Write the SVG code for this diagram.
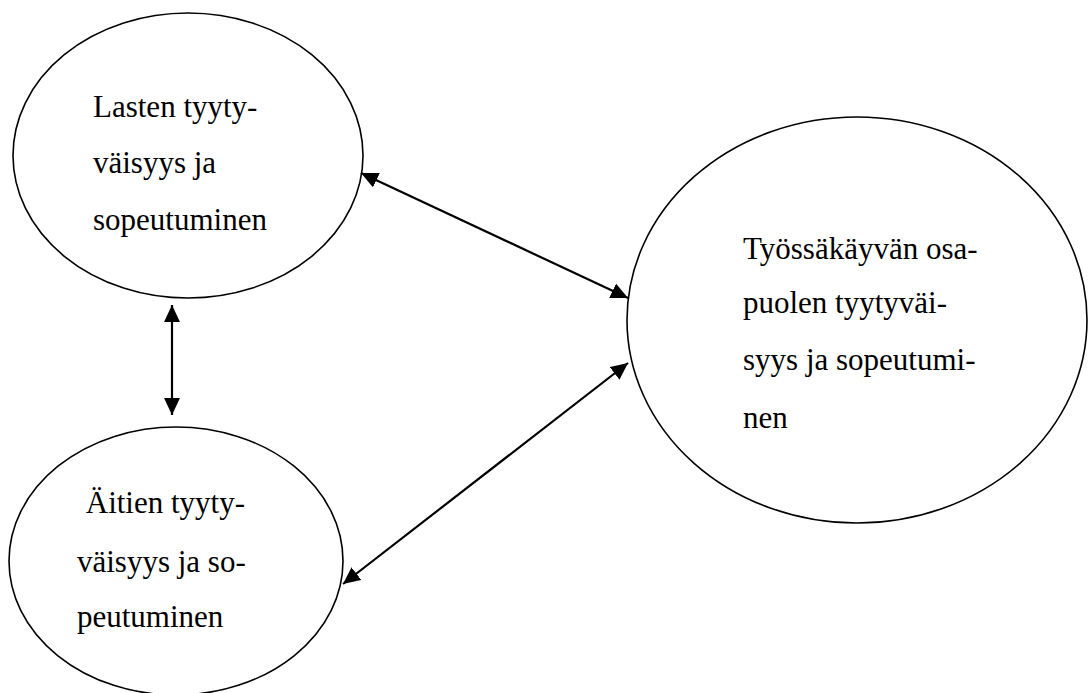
<svg xmlns="http://www.w3.org/2000/svg" width="1088" height="693" viewBox="0 0 1088 693">
  <style>
    .node ellipse { fill: #ffffff; stroke: #000000; stroke-width: 1.6; }
    .node text { font-family: "Liberation Serif", "Times New Roman", serif; font-size: 31px; fill: #000000; }
    .edge { stroke: #000000; stroke-width: 2.2; fill: none; }
  </style>
  <defs>
    <marker id="arrow" markerUnits="userSpaceOnUse" markerWidth="18" markerHeight="16" refX="17" refY="8" orient="auto-start-reverse" viewBox="0 0 18 16">
      <path d="M0,0 L17,8 L0,16 Z" fill="#000000"/>
    </marker>
  </defs>
  <rect width="1088" height="693" fill="#ffffff"/>

  <g id="lapset" class="node">
    <ellipse cx="188" cy="155.5" rx="175" ry="142.5"/>
    <text x="93" y="117">Lasten tyyty-</text>
    <text x="93" y="173">väisyys ja</text>
    <text x="93" y="230">sopeutuminen</text>
  </g>

  <g id="aidit" class="node">
    <ellipse cx="176" cy="561" rx="167" ry="134"/>
    <text x="78" y="513" xml:space="preserve"> Äitien tyyty-</text>
    <text x="77" y="572">väisyys ja so-</text>
    <text x="77" y="627">peutuminen</text>
  </g>

  <g id="tyossakayva" class="node">
    <ellipse cx="857" cy="320" rx="230" ry="203"/>
    <text x="743" y="259">Työssäkäyvän osa-</text>
    <text x="743" y="313">puolen tyytyväi-</text>
    <text x="743" y="370">syys ja sopeutumi-</text>
    <text x="743" y="428">nen</text>
  </g>

  <g id="connectors">
    <line class="edge" x1="361" y1="173" x2="628" y2="298" marker-start="url(#arrow)" marker-end="url(#arrow)"/>
    <line class="edge" x1="343" y1="584" x2="628" y2="363" marker-start="url(#arrow)" marker-end="url(#arrow)"/>
    <line class="edge" x1="172" y1="305" x2="172" y2="415" marker-start="url(#arrow)" marker-end="url(#arrow)"/>
  </g>
</svg>
